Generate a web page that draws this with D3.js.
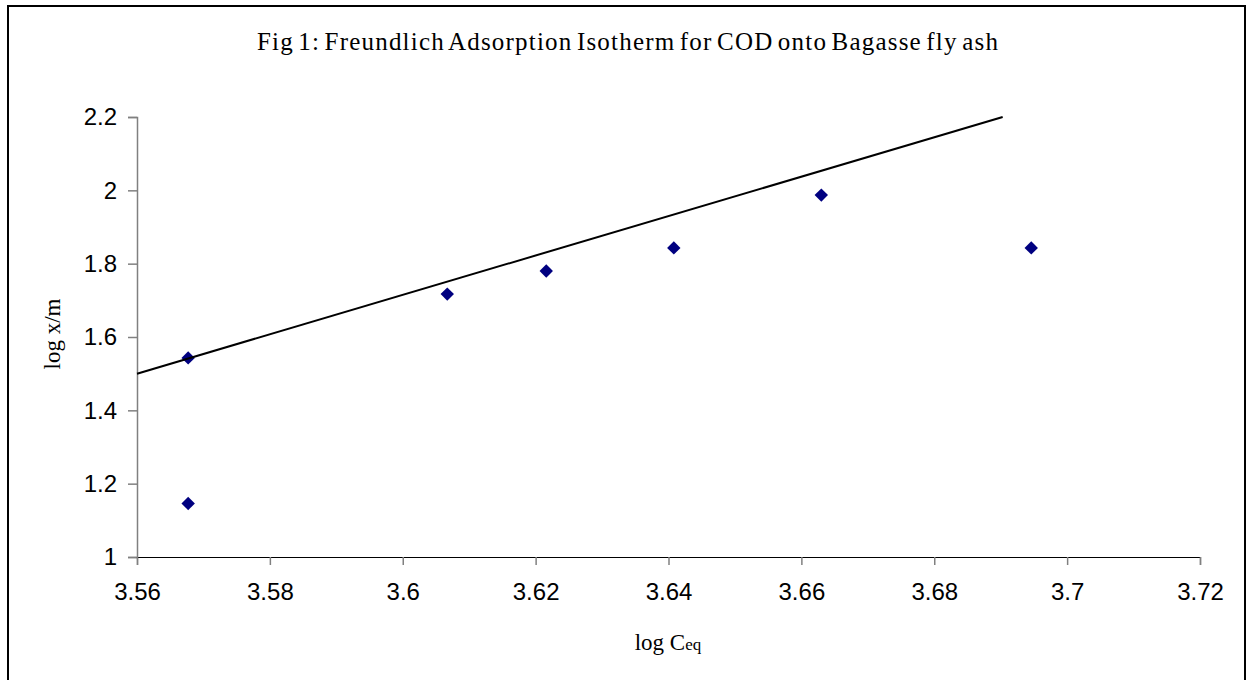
<!DOCTYPE html>
<html>
<head>
    <meta charset="utf-8">
    <title>Freundlich Adsorption Isotherm</title>
    <style>
        body { margin: 0; background: #fff; }
    </style>
</head>
<body>

<main></main>

<script src="https://cdn.jsdelivr.net/npm/d3@7"></script>
<script>
    // data
    var logCeq = [3.5677, 3.5677, 3.6067, 3.6216, 3.6408, 3.6630, 3.6946];
    var logXm = [1.146, 1.543, 1.717, 1.780, 1.843, 1.987, 1.843];
    // fitted trend line, two end points
    var fitX = [3.56, 3.6903];
    var fitY = [1.5, 2.2];
    var xTicks = [3.56, 3.58, 3.6, 3.62, 3.64, 3.66, 3.68, 3.7, 3.72];
    var yTicks = [1, 1.2, 1.4, 1.6, 1.8, 2, 2.2];

    var width = 1247, height = 680;
    var svg = d3.select("main").append("svg")
        .attr("width", width)
        .attr("height", height)
        .style("display", "block");

    // chart frame
    svg.append("rect")
        .attr("x", 8).attr("y", 6)
        .attr("width", 1237).attr("height", 700)
        .attr("fill", "none")
        .attr("stroke", "#000")
        .attr("stroke-width", 2);

    var x = d3.scaleLinear().domain([3.56, 3.72]).range([137, 1200]);
    var y = d3.scaleLinear().domain([1, 2.2]).range([557, 117]);

    var axisColor = "#808080";
    var sans = "'Liberation Sans', Arial, sans-serif";
    var serif = "'Liberation Serif', 'Times New Roman', serif";

    // x axis
    var gx = svg.append("g")
        .attr("transform", "translate(0," + y(1) + ")")
        .call(d3.axisBottom(x).tickValues(xTicks).tickSize(8).tickPadding(18)
            .tickFormat(function (d) { return String(+d.toFixed(2)); }));
    gx.select(".domain").attr("stroke", "#000").attr("stroke-width", 1.2);
    gx.selectAll(".tick line").attr("stroke", axisColor).attr("stroke-width", 1.5);
    gx.selectAll("text")
        .attr("fill", "#000")
        .style("font-family", sans)
        .style("font-size", "24px");

    // y axis
    var gy = svg.append("g")
        .attr("transform", "translate(" + x(3.56) + ",0)")
        .call(d3.axisLeft(y).tickValues(yTicks).tickSize(9).tickPadding(11)
            .tickFormat(function (d) { return String(+d.toFixed(1)); }));
    gy.select(".domain").attr("stroke", axisColor).attr("stroke-width", 1.5);
    gy.selectAll(".tick line").attr("stroke", axisColor).attr("stroke-width", 1.5);
    gy.selectAll("text")
        .attr("fill", "#000")
        .style("font-family", sans)
        .style("font-size", "24px");
    // keep x-axis line on top of the y ticks
    gx.raise();

    // points (square turned 45 degrees)
    var diamond = d3.symbol().type(d3.symbolSquare).size(90);
    svg.append("g").selectAll("path")
        .data(logCeq)
        .enter()
        .append("path")
        .attr("d", diamond)
        .attr("transform", function (d, i) {
            return "translate(" + x(d) + "," + y(logXm[i]) + ") rotate(45)";
        })
        .attr("fill", "#000080");

    // trend line
    var line = d3.line()
        .x(function (d) { return x(d); })
        .y(function (d, i) { return y(fitY[i]); });
    svg.append("path")
        .datum(fitX)
        .attr("d", line)
        .attr("fill", "none")
        .attr("stroke", "#000")
        .attr("stroke-width", 2);

    // title
    svg.append("text")
        .attr("x", 628).attr("y", 50)
        .attr("text-anchor", "middle")
        .style("font-family", serif)
        .style("font-size", "25px")
        .style("letter-spacing", "1.2px")
        .style("word-spacing", "-3px")
        .text("Fig 1: Freundlich Adsorption Isotherm for COD onto Bagasse fly ash");

    // x label with small "eq"
    var xl = svg.append("text")
        .attr("x", 668).attr("y", 650)
        .attr("text-anchor", "middle")
        .style("font-family", serif)
        .style("font-size", "23px");
    xl.append("tspan").text("log C");
    xl.append("tspan").style("font-size", "17px").text("eq");

    // y label
    svg.append("text")
        .attr("transform", "translate(60,334) rotate(-90)")
        .attr("text-anchor", "middle")
        .style("font-family", serif)
        .style("font-size", "23px")
        .text("log x/m");
</script>
</body>
</html>
